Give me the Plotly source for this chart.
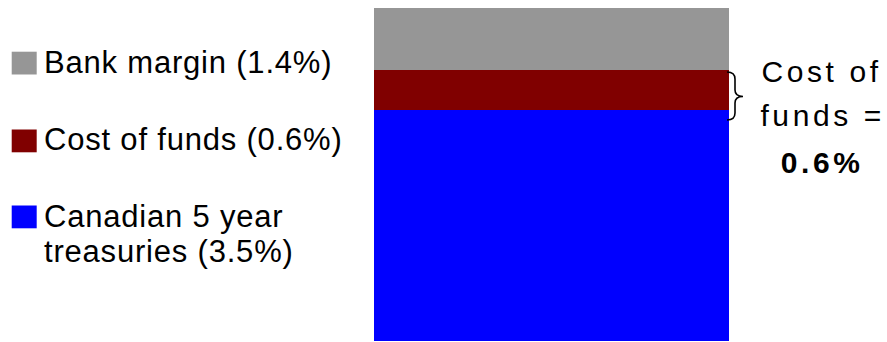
import plotly.graph_objects as go

# ---- data ----
categories = ["Mortgage rate"]
series_names = ["Canadian 5 year treasuries", "Cost of funds", "Bank margin"]
series_values = [3.5, 0.6, 1.4]
series_colors = ["#0000FF", "#800000", "#969696"]
legend_lines = [["Bank margin (1.4%)"], ["Cost of funds (0.6%)"], ["Canadian 5 year", "treasuries (3.5%)"]]
legend_colors = ["#969696", "#800000", "#0000FF"]
callout_lines = ["Cost of", "funds =", "<b>0.6%</b>"]

W, H = 887, 342
L, R, T, B = 374, 729, 8, 341


def px(x):
    return (x - L) / (R - L)


def py(y):
    return (B - y) / (B - T)


FONT = "Liberation Sans, Arial, sans-serif"

fig = go.Figure()
for name, val, col in zip(series_names, series_values, series_colors):
    fig.add_trace(go.Bar(x=categories, y=[val], name=name, width=1,
                         marker=dict(color=col, line=dict(width=0)),
                         hoverinfo="skip"))

fig.update_layout(barmode="stack", bargap=0, width=W, height=H,
                  margin=dict(l=L, r=W - R, t=T, b=H - B, pad=0),
                  showlegend=False, plot_bgcolor="white", paper_bgcolor="white")
fig.update_xaxes(visible=False, range=[-0.5, 0.5])
fig.update_yaxes(visible=False, range=[0, 5.04])

# legend squares and text
sq_tops = [51.7, 129.5, 205.5]
line_centers = [[62.5], [140], [216, 252]]
for top, col in zip(sq_tops, legend_colors):
    fig.add_shape(type="rect", xref="paper", yref="paper",
                  x0=px(11.7), x1=px(36.7), y0=py(top), y1=py(top + 22.8),
                  fillcolor=col, line=dict(width=0))
for lines, centers in zip(legend_lines, line_centers):
    for txt, c in zip(lines, centers):
        fig.add_annotation(text=txt, xref="paper", yref="paper", x=px(42), y=py(c),
                           xanchor="left", yanchor="middle", align="left", showarrow=False,
                           font=dict(family=FONT, size=31, color="black"))

# callout text
callout_centers = [71.7, 115.5, 162.5]
for txt, c in zip(callout_lines, callout_centers):
    fig.add_annotation(text=txt, xref="paper", yref="paper", x=px(822), y=py(c),
                       xanchor="center", yanchor="middle", showarrow=False,
                       font=dict(family=FONT, size=30, color="black"))

# brace
pts = {
    "a": (727, 72), "b": (735, 79), "c": (735, 90), "d": (743, 96.5),
    "e": (735, 103), "f": (735, 113), "g": (727, 120),
}
P = {k: (px(x), py(y)) for k, (x, y) in pts.items()}
path = (f"M {P['a'][0]},{P['a'][1]} Q {px(735)},{py(72)} {P['b'][0]},{P['b'][1]} "
        f"L {P['c'][0]},{P['c'][1]} Q {px(735)},{py(96.5)} {P['d'][0]},{P['d'][1]} "
        f"Q {px(735)},{py(96.5)} {P['e'][0]},{P['e'][1]} "
        f"L {P['f'][0]},{P['f'][1]} Q {px(735)},{py(120)} {P['g'][0]},{P['g'][1]}")
fig.add_shape(type="path", xref="paper", yref="paper", path=path,
              line=dict(color="black", width=1.6))

post = """
document.querySelectorAll('.annotation-text').forEach(function(e){
  var t = e.textContent;
  if (t === 'Cost of' || t === 'funds =' || t === '0.6%') { e.style.letterSpacing = '3.6px'; }
  else { e.style.letterSpacing = '0.8px'; }
});
"""

fig.write_html("out.html", post_script=post, config={"displayModeBar": False})
